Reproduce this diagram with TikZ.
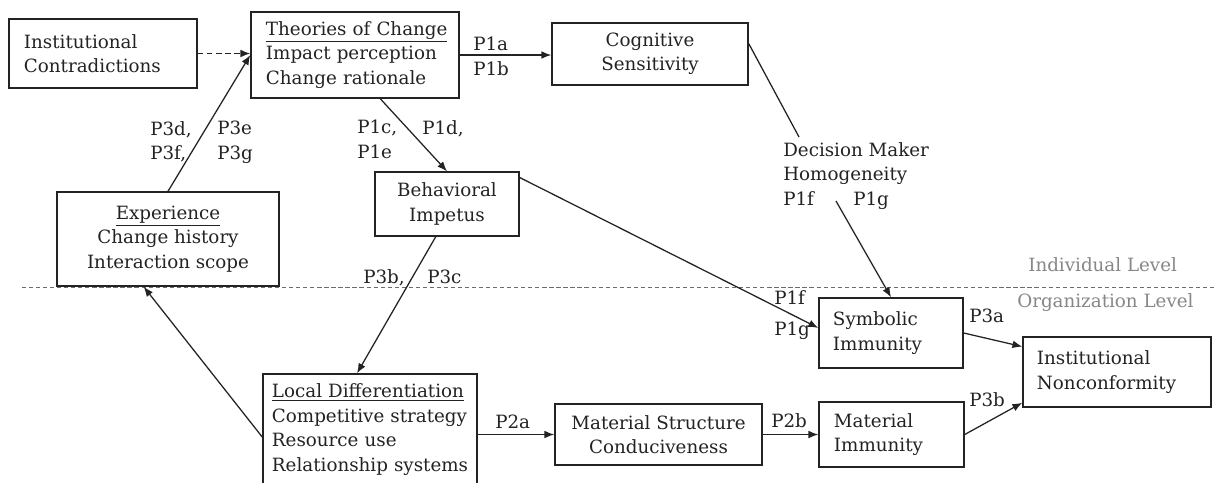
\documentclass[tikz,border=0pt]{standalone}
\usepackage{fontspec}
\setmainfont{DejaVu Serif}
\usetikzlibrary{
    arrows.meta,
    calc,
    positioning
}
\definecolor{inkblack}{RGB}{35,35,35}
\definecolor{levelgray}{RGB}{135,135,135}
\newcommand{\figfont}{\fontsize{13}{17.4}\selectfont}
\tikzset{
    % Box styles
    factor box/.style={
        draw=inkblack,
        line width=1pt,
        rectangle,
        align=center,
        inner sep=0pt,
        font=\figfont,
        text=inkblack
    },
    list box/.style={
        factor box,
        align=left,
        inner xsep=0.375cm
    },
    % Text styles
    prop label/.style={
        inner sep=0pt,
        font=\figfont,
        text=inkblack,
        anchor=north west,
        align=left
    },
    level label/.style={
        inner sep=0pt,
        font=\figfont,
        text=levelgray,
        anchor=base west
    },
    % Arrow styles
    prop arrow/.style={
        -{Latex[length=7pt,width=5.5pt]},
        line width=0.9pt,
        inkblack
    },
    hint arrow/.style={
        prop arrow,
        dash pattern=on 4pt off 2.5pt
    },
    link line/.style={
        line width=0.9pt,
        inkblack
    },
    level line/.style={
        line width=0.6pt,
        levelgray!80!black,
        dash pattern=on 3pt off 2pt
    }
}

\begin{document}
\begin{tikzpicture}[x=0.025cm, y=-0.025cm]
        \useasboundingbox (0,0) rectangle (1216,482);
        \fill[white] (0,0) rectangle (1216,482);

        % Nodes
        \node[list box, text width=3.95cm, minimum height=1.725cm] (contra) at (103,53.5) {Institutional\\Contradictions};
        \node[list box, text width=4.45cm, minimum height=2.15cm] (theory) at (355,55) {\underline{Theories of Change}\\Impact perception\\Change rationale};
        \node[factor box, minimum width=4.9cm, minimum height=1.55cm] (cognitive) at (650,54) {Cognitive\\Sensitivity};
        \node[factor box, minimum width=5.55cm, minimum height=2.35cm] (experience) at (168,239) {\underline{Experience}\\Change history\\Interaction scope};
        \node[factor box, minimum width=3.6cm, minimum height=1.6cm] (behavior) at (447,204) {Behavioral\\Impetus};
        \node[list box, text width=4.9cm, inner xsep=0.225cm, minimum height=2.775cm] (localdiff) at (370,429.5) {\underline{Local Differentiation}\\Competitive strategy\\Resource use\\\mbox{Relationship systems}};
        \node[factor box, minimum width=5.175cm, minimum height=1.525cm] (matstruct) at (658.5,434.5) {Material Structure\\Conduciveness};
        \node[list box, text width=2.9cm, inner xsep=0.35cm, minimum height=1.75cm] (symimm) at (891,333) {Symbolic\\Immunity};
        \node[list box, text width=2.875cm, minimum height=1.625cm] (matimm) at (891.5,434.5) {Material\\Immunity};
        \node[list box, text width=4cm, inner xsep=0.35cm, minimum height=1.75cm] (nonconf) at (1117,372) {Institutional\\Nonconformity};
        \node[prop label] (dmh) at (783,142) {Decision Maker\\Homogeneity\\\makebox[1.75cm][l]{P1f}P1g};
        \coordinate (dmh in) at (799,137);
        \coordinate (dmh out) at (836,201);

        % Level divider
        \coordinate (level start) at (22,287);
        \coordinate (level end) at (1216,287);
        \draw[level line] (level start) -- (level end);
        \node[level label] (indiv) at (1028,271) {Individual Level};
        \node[level label] (organ) at (1017,307) {Organization Level};

        % Edges
        \draw[hint arrow] (contra.east) -- (contra.east -| theory.west);
        \draw[prop arrow] (experience.north) -- (theory.west);
        \draw[prop arrow] (theory.east) -- (theory.east -| cognitive.west);
        \draw[prop arrow] (theory.-60) -- (behavior.north);
        \draw[prop arrow] (behavior.-109) -- (localdiff.103);
        \draw[prop arrow] (localdiff.184) -- (experience.-117);
        \draw[prop arrow] (behavior.20) -- (symimm.176);
        \draw[link line] (cognitive.6) -- (dmh in);
        \draw[prop arrow] (dmh out) -- (symimm.north);
        \draw[prop arrow] (localdiff.east |- matstruct.west) -- (matstruct.west);
        \draw[prop arrow] (matstruct.east) -- (matimm.west);
        \draw[prop arrow] (symimm.east) -- (nonconf.165);
        \draw[prop arrow] (matimm.east) -- (nonconf.198);

        % Edge labels
        \node[prop label, anchor=base west] (p1a) at (473,50) {P1a};
        \node[prop label, anchor=base west] (p1b) at (473,75) {P1b};
        \node[prop label] (p3left) at (150,121) {P3d,\\P3f,};
        \node[prop label] (p3right) at (217,121) {P3e\\P3g};
        \node[prop label] (p1left) at (357,120) {P1c,\\P1e};
        \node[prop label] (p1right) at (422,120) {P1d,};
        \node[prop label, anchor=base west] (p3b) at (363,283) {P3b,};
        \node[prop label, anchor=base west] (p3c) at (427,283) {P3c};
        \node[prop label, anchor=base west] (p1f) at (774,304) {P1f};
        \node[prop label, anchor=base west] (p1g) at (774,335) {P1g};
        \node[prop label, anchor=base west] (p2a) at (495,428) {P2a};
        \node[prop label, anchor=base west] (p2b) at (771,427) {P2b};
        \node[prop label, anchor=base west] (p3a) at (969,322) {P3a};
        \node[prop label, anchor=base west] (p3bb) at (969,406) {P3b};
    \end{tikzpicture}
\end{document}
